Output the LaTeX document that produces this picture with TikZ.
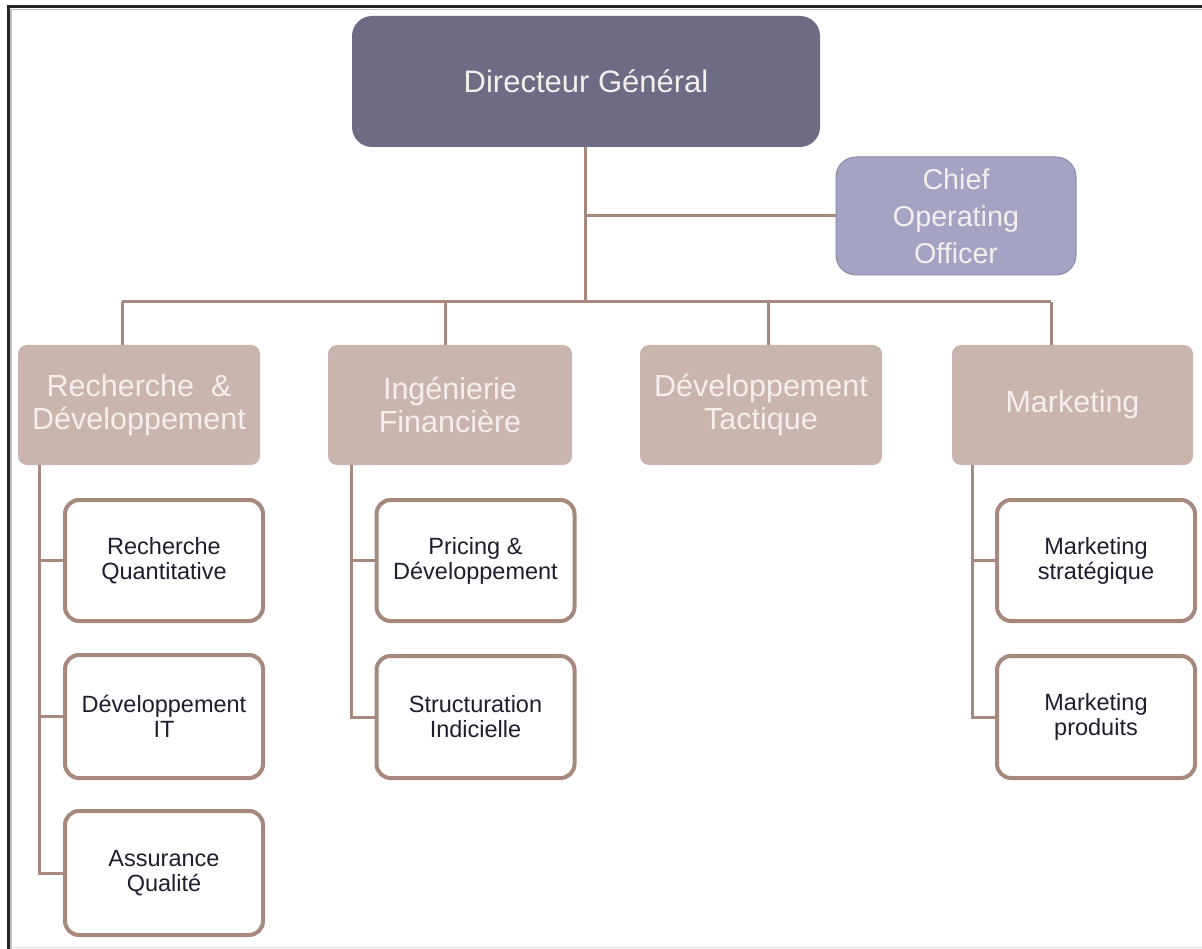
\documentclass[tikz,border=0pt]{standalone}
\usepackage{fontspec}
\setmainfont{Liberation Sans}
\definecolor{dgfill}{HTML}{6D6C84}
\definecolor{coofill}{HTML}{A4A3C3}
\definecolor{coodraw}{HTML}{8C8BAA}
\definecolor{deptfill}{HTML}{C9B5AD}
\definecolor{lighttext}{HTML}{F4EFEC}
\definecolor{linkcol}{HTML}{A6887D}
\definecolor{subtext}{HTML}{1E1E2E}
\tikzset{
  topbox/.style={fill=dgfill, rounded corners=20pt, minimum width=468pt, minimum height=131pt,
    text=lighttext, font=\fontsize{31}{36}\selectfont, inner sep=0pt},
  coobox/.style={fill=coofill, draw=coodraw, line width=1pt, rounded corners=20pt,
    minimum width=240pt, minimum height=118pt, text=lighttext, align=center,
    font=\fontsize{28.7}{37}\selectfont, inner sep=0pt},
  deptbox/.style={fill=deptfill, rounded corners=9pt, minimum width=242pt, minimum height=120pt,
    text=lighttext, align=center, font=\fontsize{30.5}{33}\selectfont, inner sep=0pt},
  subbox/.style={fill=white, draw=linkcol, line width=4pt, rounded corners=14pt,
    minimum width=198pt, minimum height=121pt, text=subtext, align=center,
    font=\fontsize{23.5}{25}\selectfont, inner sep=0pt},
  link/.style={draw=linkcol, line width=3pt},
}
\begin{document}
\begin{tikzpicture}[x=1pt,y=-1pt]
  \useasboundingbox (0,0) rectangle (1202,949);
  \fill[white] (0,0) rectangle (1202,949);
  % frame lines
  \draw[black!85, line width=2.6pt] (8.6,949) -- (8.6,6.6) -- (1202,6.6);
  \draw[black!25, line width=1.6pt] (11,949) -- (11,9.4) -- (1202,9.4);
  \draw[black!12, line width=1pt] (11,947) -- (1202,947);

  % main boxes
  \node[topbox] (dg) at (586,81.5) {Directeur Général};
  \node[coobox] (coo) at (956,216) {Chief\\Operating\\Officer};

  \node[deptbox] (rd)  at (139,405)   {Recherche \ \&\\Développement};
  \node[deptbox, minimum width=244pt] (ing) at (450,405) {Ingénierie\\Financière};
  \node[deptbox] (dt)  at (761,405)   {Développement\\Tactique};
  \node[deptbox, minimum width=241pt] (mk)  at (1072.5,405) {Marketing};

  % trunk and bus
  \coordinate (bus) at (585,302);
  \coordinate (busL) at (122,302);
  \coordinate (busR) at (1051,302);
  \draw[link] (dg.south -| bus) -- (bus);
  \draw[link] (coo.west) -- (coo.west -| bus);
  \draw[link] (busL) -- (busR);
  \draw[link] (rd.north -| busL) -- (busL);
  \draw[link] ([xshift=-5pt]ing.north) -- ([xshift=-5pt]ing.north |- bus);
  \draw[link] ([xshift=7pt]dt.north) -- ([xshift=7pt]dt.north |- bus);
  \draw[link] (mk.north -| busR) -- (busR);

  % spines under departments
  \coordinate (rdsp) at ([xshift=22pt]rd.south west);
  \coordinate (ingsp) at ([xshift=24pt]ing.south west);
  \coordinate (mksp) at ([xshift=21pt]mk.south west);

  % sub units
  \node[subbox] (rq)  at (164,560.5) {Recherche\\Quantitative};
  \node[subbox, minimum height=123pt] (dit) at (164,716.5) {Développement\\IT};
  \node[subbox, minimum height=124pt] (aq)  at (164,873)   {Assurance\\Qualité};

  \node[subbox] (pd) at (475.5,560.5) {Pricing \&\\Développement};
  \node[subbox, minimum height=122pt] (si) at (475.5,717) {Structuration\\Indicielle};

  \node[subbox] (ms) at (1096,560.5) {Marketing\\stratégique};
  \node[subbox, minimum height=122pt] (mp) at (1096,717) {Marketing\\produits};

  % branches from the spines
  \draw[link] (rdsp) |- (aq.west);
  \draw[link] (rq.west) -- (rq.west -| rdsp);
  \draw[link] (dit.west) -- (dit.west -| rdsp);

  \draw[link] (ingsp) |- (si.west);
  \draw[link] (pd.west) -- (pd.west -| ingsp);

  \draw[link] (mksp) |- (mp.west);
  \draw[link] (ms.west) -- (ms.west -| mksp);
\end{tikzpicture}
\end{document}
